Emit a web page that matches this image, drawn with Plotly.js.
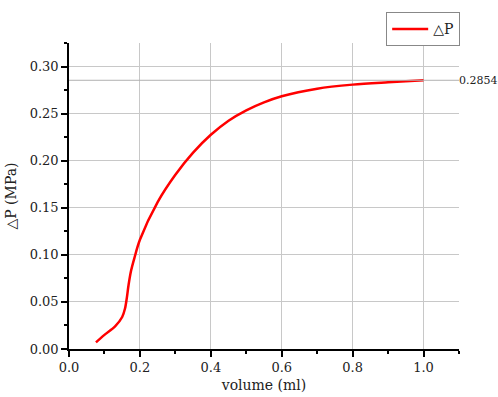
<!DOCTYPE html>
<html>
<head>
<meta charset="utf-8">
<script src="https://cdn.plot.ly/plotly-3.0.1.min.js"></script>
<style>body{margin:0;background:#fff}#plot{width:498px;height:397px}</style>
</head>
<body>
<div id="plot"></div>
<script>
// volume (ml) vs pressure drop (MPa)
var volume = [0.076, 0.1, 0.13, 0.15, 0.158, 0.163, 0.168, 0.175, 0.184, 0.2, 0.25, 0.3, 0.35, 0.4, 0.45, 0.5, 0.55, 0.6, 0.7, 0.8, 0.9, 1.0];
var deltaP = [0.007, 0.015, 0.024, 0.034, 0.043, 0.054, 0.068, 0.083, 0.096, 0.116, 0.156, 0.185, 0.2085, 0.2275, 0.2425, 0.2535, 0.262, 0.2685, 0.2765, 0.2808, 0.2833, 0.2854];
var finalValue = 0.2854;

var serif = "DejaVu Serif, Liberation Serif, serif";
var tickFont = {family: serif, size: 13, color: "#222"};
var titleFont = {family: serif, size: 14, color: "#222"};

var trace = {
    x: volume,
    y: deltaP,
    type: "scatter",
    mode: "lines",
    name: "△P",
    line: {color: "#ff0000", width: 2.5, shape: "spline", smoothing: 0.9}
};

var layout = {
    width: 498,
    height: 397,
    margin: {l: 69, r: 39, t: 36, b: 48},
    paper_bgcolor: "#fff",
    plot_bgcolor: "#fff",
    font: tickFont,
    showlegend: true,
    legend: {
        x: 1.003, xanchor: "right", y: 1.1, yanchor: "top",
        bordercolor: "#888", borderwidth: 1,
        font: {family: serif, size: 14, color: "#222"},
        itemwidth: 36
    },
    xaxis: {
        range: [0, 1.1],
        tickvals: [0, 0.2, 0.4, 0.6, 0.8, 1.0],
        ticktext: ["0.0", "0.2", "0.4", "0.6", "0.8", "1.0"],
        tickfont: tickFont,
        ticks: "outside", ticklen: 6, tickwidth: 1.5, tickcolor: "#000",
        minor: {dtick: 0.1, ticks: "outside", ticklen: 3, tickcolor: "#000", showgrid: false},
        showline: true, linecolor: "#000", linewidth: 1.5,
        showgrid: true, gridcolor: "#c8c8c8", gridwidth: 1,
        zeroline: false,
        title: {text: "volume (ml)", font: titleFont, standoff: 6}
    },
    yaxis: {
        range: [0, 0.325],
        tickvals: [0, 0.05, 0.1, 0.15, 0.2, 0.25, 0.3],
        ticktext: ["0.00", "0.05", "0.10", "0.15", "0.20", "0.25", "0.30"],
        tickfont: tickFont,
        ticks: "outside", ticklen: 6, tickwidth: 1.5, tickcolor: "#000",
        minor: {dtick: 0.025, ticks: "outside", ticklen: 3, tickcolor: "#000", showgrid: false},
        showline: true, linecolor: "#000", linewidth: 1.5,
        showgrid: true, gridcolor: "#c8c8c8", gridwidth: 1,
        zeroline: false,
        title: {text: "△P (MPa)", font: titleFont, standoff: 10}
    },
    shapes: [{
        type: "line", xref: "paper", x0: 0, x1: 1, yref: "y", y0: finalValue, y1: finalValue,
        line: {color: "#b0b0b0", width: 1}
    }],
    annotations: [{
        xref: "paper", x: 0.995, xanchor: "left", yref: "y", y: finalValue, yanchor: "middle",
        text: String(finalValue), showarrow: false,
        font: {family: serif, size: 11, color: "#222"}
    }]
};

Plotly.newPlot("plot", [trace], layout, {displayModeBar: false});
</script>
</body>
</html>
